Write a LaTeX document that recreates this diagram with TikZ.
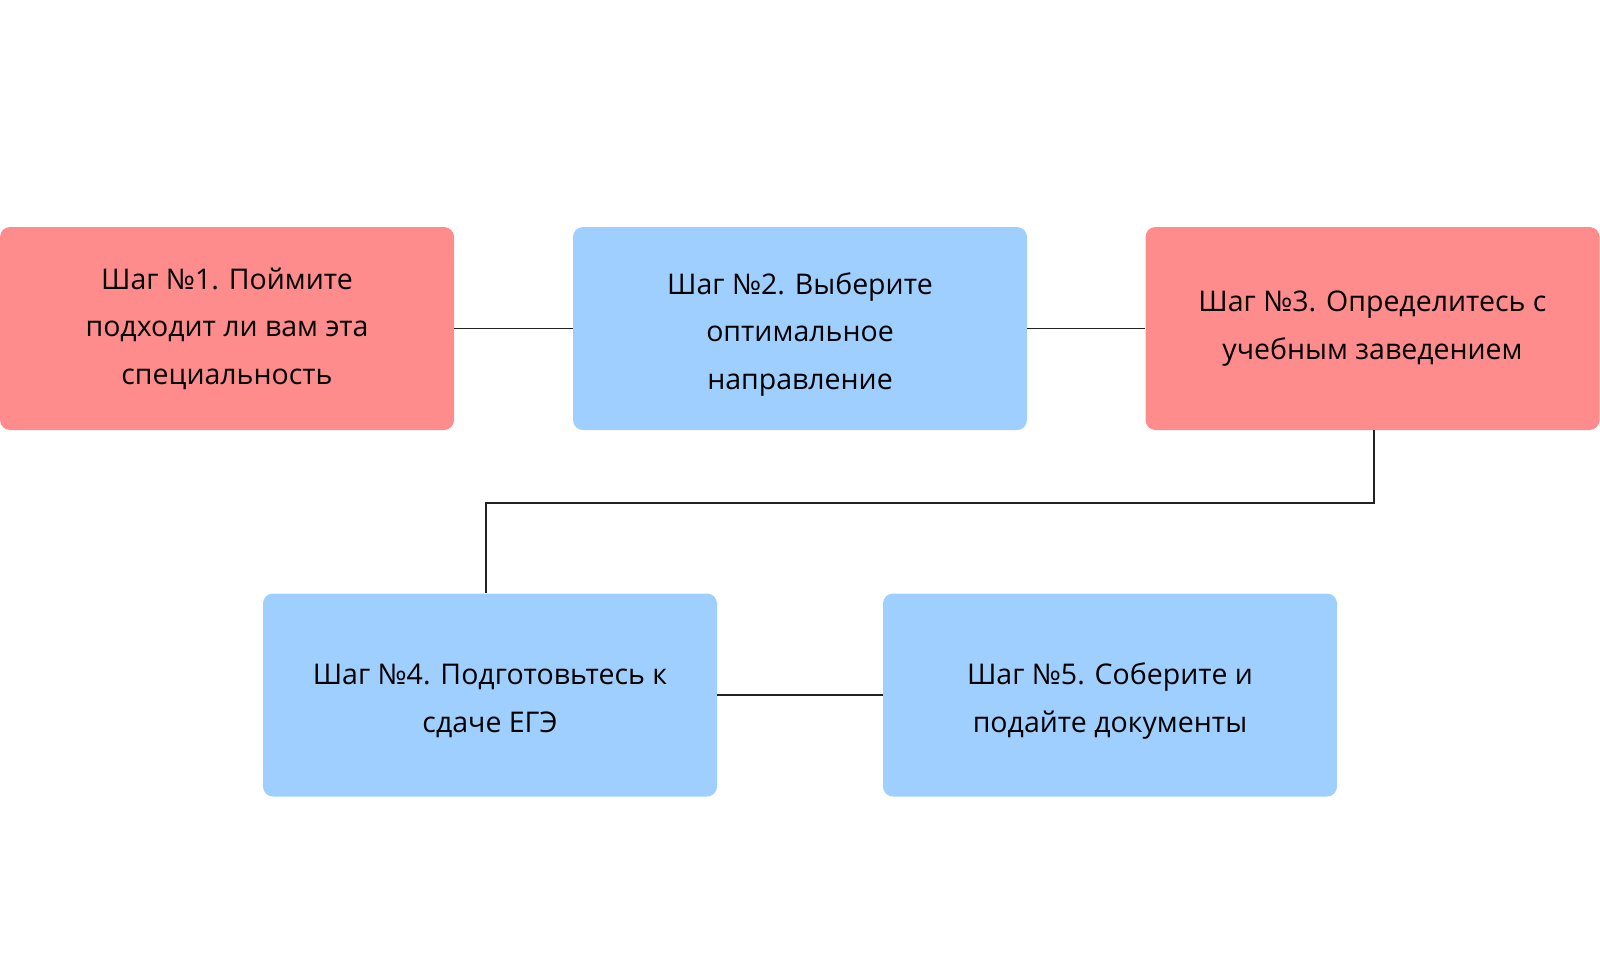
\documentclass[tikz,border=0pt]{standalone}
\usepackage{fontspec}
\setmainfont{Open Sans}
\definecolor{stepred}{HTML}{FF8C8C}
\definecolor{stepblue}{HTML}{9FCFFF}
\definecolor{linecol}{HTML}{222222}
\begin{document}
\begin{tikzpicture}[x=1pt,y=-1pt,
  box/.style={rounded corners=10pt, minimum width=454pt, minimum height=203pt, inner sep=0pt, align=center, font=\fontsize{28.5}{47.5}\selectfont, text=black},
  redbox/.style={box, fill=stepred},
  bluebox/.style={box, fill=stepblue},
  conn/.style={draw=linecol, line width=1.5pt}]
\useasboundingbox (0,0) rectangle (1600,975);
\node[redbox] (s1) at (227,328.5) {Шаг №1. Поймите\\подходит ли вам эта\\специальность};
\node[bluebox] (s2) at (800,328.5) {};
\node[redbox] (s3) at (1372.5,328.5) {Шаг №3. Определитесь с\\учебным заведением};
\node[bluebox] (s4) at (490,695) {};
\node[bluebox] (s5) at (1110,695) {};
\node[box, minimum height=0pt] (t2) at (800,334) {Шаг №2. Выберите\\оптимальное\\направление};
\node[box, minimum height=0pt] (t4) at (490,701) {Шаг №4. Подготовьтесь к\\сдаче ЕГЭ};
\node[box, minimum height=0pt] (t5) at (1110,701) {Шаг №5. Соберите и\\подайте документы};
\coordinate (c1) at (1374,503);
\coordinate (c2) at (486,503);
\draw[conn] (s1.east) -- (s2.west);
\draw[conn] (s2.east) -- (s3.west);
\draw[conn] (s3.south -| c1) -- (c1) -- (c2) -- (s4.north -| c2);
\draw[conn] (s4.east) -- (s5.west);
\end{tikzpicture}
\end{document}
